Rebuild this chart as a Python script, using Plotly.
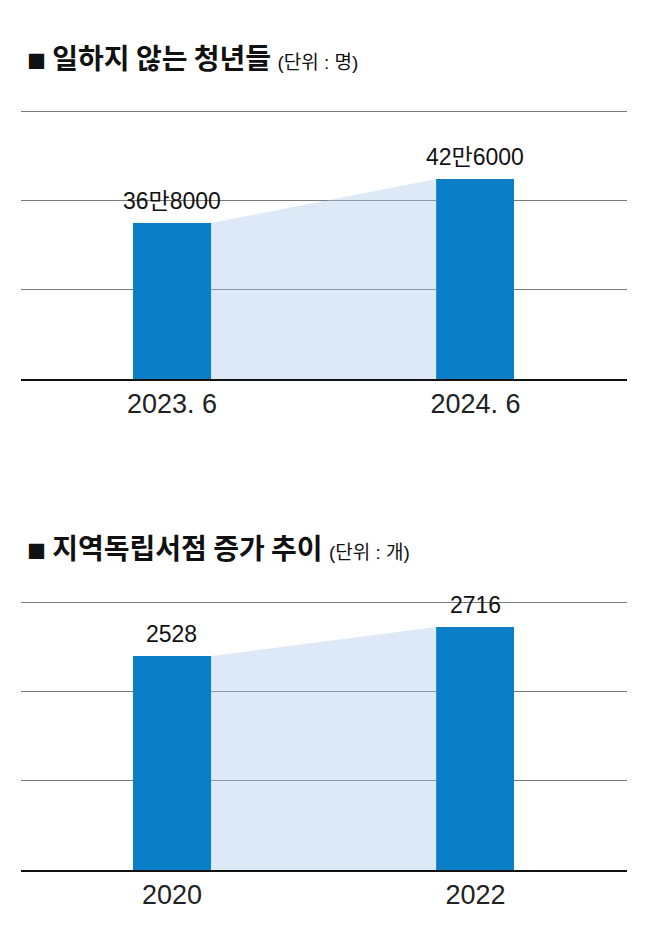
import plotly.graph_objects as go

# ---- data ----
youth_periods = ["2023. 6", "2024. 6"]
youth_values = [368000, 426000]
youth_labels = ["36만8000", "42만6000"]

store_years = ["2020", "2022"]
store_values = [2528, 2716]
store_labels = ["2528", "2716"]

title1 = "일하지 않는 청년들"
unit1 = "(단위 : 명)"
title2 = "지역독립서점 증가 추이"
unit2 = "(단위 : 개)"

BAR = "#0a7fc7"
FILL = "rgba(170,200,236,0.40)"
GRID = "#7a7a7a"
NUM_FONT = "Liberation Sans Narrow, Arial Narrow, Liberation Sans, Noto Sans CJK KR, sans-serif"
KR_FONT = "Noto Sans CJK KR, sans-serif"

W, H = 658, 940
BAR_W = 0.257
XR = [-0.4975, 1.4992]

fig = go.Figure()

def add_panel(xa, ya, cats, vals, labels):
    xs = list(range(len(cats)))
    hw = BAR_W / 2
    # connecting light area between bar tops
    fig.add_trace(go.Scatter(
        x=[xs[0] + hw, xs[1] - hw, xs[1] - hw, xs[0] + hw],
        y=[vals[0], vals[1], 0, 0],
        fill="toself", fillcolor=FILL, mode="lines", line=dict(width=0),
        hoverinfo="skip", showlegend=False, xaxis=xa, yaxis=ya))
    fig.add_trace(go.Bar(
        x=xs, y=vals, width=BAR_W, marker=dict(color=BAR, line=dict(width=0)),
        showlegend=False, xaxis=xa, yaxis=ya))
    for x, v, t in zip(xs, vals, labels):
        fig.add_annotation(x=x, y=v, text=t, xref=xa, yref=ya,
                           showarrow=False, yanchor="bottom", yshift=7,
                           font=dict(family=NUM_FONT, size=23, color="#111"))

add_panel("x", "y", youth_periods, youth_values, youth_labels)
add_panel("x2", "y2", store_years, store_values, store_labels)

def xaxis_cfg(cats):
    return dict(range=XR, domain=[21 / W, 627 / W], tickvals=[0, 1], ticktext=cats,
                showgrid=False, zeroline=False, showline=True, linecolor="#111",
                linewidth=2, ticks="", ticklabelstandoff=0,
                tickfont=dict(family=NUM_FONT, size=27, color="#222"), fixedrange=True)

# axis scales (baseline value, grid step)
t0, tstep = 162400, 117700
b0, bstep = 1140.7, 578.9
fig.update_layout(
    width=W, height=H, margin=dict(l=0, r=0, t=0, b=0),
    paper_bgcolor="white", plot_bgcolor="white",
    xaxis=xaxis_cfg(youth_periods),
    xaxis2=dict(xaxis_cfg(store_years), anchor="y2"),
    yaxis=dict(domain=[1 - 379 / H, 1 - 105 / H], range=[t0, t0 + 274 / (44 / 58000)],
               tick0=t0, dtick=tstep, showgrid=True, gridcolor=GRID, gridwidth=1,
               showticklabels=False, zeroline=False, fixedrange=True),
    yaxis2=dict(domain=[1 - 870 / H, 1 - 596 / H], range=[b0, b0 + 274 / (29 / 188)],
                tick0=b0, dtick=bstep, showgrid=True, gridcolor=GRID, gridwidth=1,
                showticklabels=False, zeroline=False, fixedrange=True, anchor="x2"),
    bargap=0,
)

def title_ann(y, title, unit):
    fig.add_annotation(
        xref="paper", yref="paper", x=25 / W, y=y, xanchor="left", yanchor="middle",
        showarrow=False,
        text=(f"<span style='font-size:19px'>■</span> <b>{title}</b> "
              f"<span style='font-size:19px;font-family:{NUM_FONT}'>{unit}</span>"),
        font=dict(family=KR_FONT, size=28, color="#111"))

title_ann(1 - 57 / H, title1, unit1)
title_ann(1 - 547 / H, title2, unit2)

fig.write_html("out.html", config={"displayModeBar": False},
               post_script="document.body.style.margin='0';")
